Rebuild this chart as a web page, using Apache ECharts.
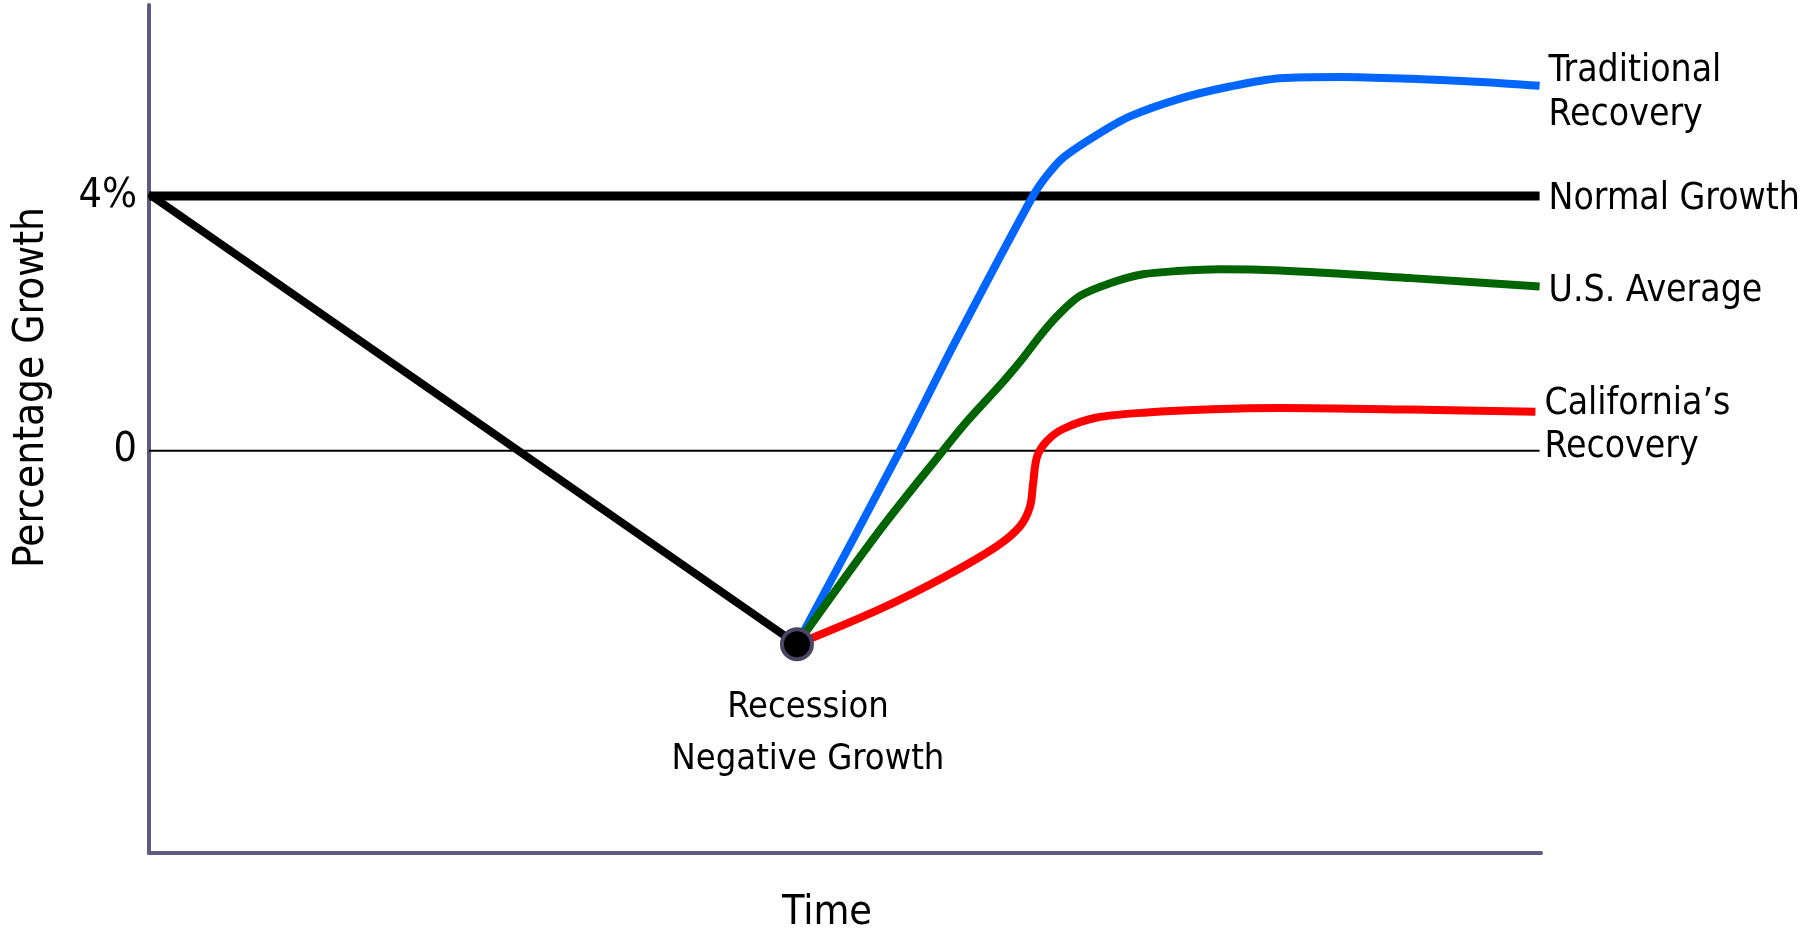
<!DOCTYPE html>
<html>
<head>
<meta charset="utf-8">
<script src="https://cdn.jsdelivr.net/npm/echarts@6/dist/echarts.min.js"></script>
<style>
html,body{margin:0;padding:0;background:#fff;}
#chart{width:1820px;height:939px;}
</style>
</head>
<body>
<div id="chart"></div>
<script>
// ---- data (time units 0..100, growth in %) ----
const yTickValues = [0, 4];
const yTickLabels = ['0', '4%'];
const yAxisTitle = 'Percentage Growth';
const xAxisTitle = 'Time';

const normalX = [0, 99.9];
const normalY = [4, 4];

const zeroX = [0, 99.9];
const zeroY = [0, 0];

const declineX = [0.2, 46.55];
const declineY = [4, -3.04];

const recessionPoint = [46.55, -3.04];
const recessionLabel = 'Recession\nNegative Growth';

const traditionalX = [46.55, 53.95, 57.9, 63.5, 64.5, 65.66, 68.1, 70.47, 74.07, 77.66, 81.25, 85.6, 90.66, 95.7, 99.9];
const traditionalY = [-3.04, 0, 1.70, 4.0, 4.32, 4.60, 4.96, 5.25, 5.53, 5.72, 5.85, 5.87, 5.84, 5.79, 5.73];

const usX = [46.55, 52.5, 57.04, 58.76, 61.35, 62.79, 64.22, 65.45, 66.88, 69.04, 71.41, 73.85, 76.94, 81.25, 90.66, 99.9];
const usY = [-3.04, -1.25, 0, 0.46, 1.08, 1.455, 1.86, 2.16, 2.43, 2.63, 2.77, 2.82, 2.85, 2.83, 2.71, 2.58];

const caX = [46.55, 52.5, 57.33, 60.92, 62.57, 63.29, 63.51, 63.79, 64.5, 65.66, 68.1, 71.7, 76.4, 81.25, 90.66, 99.6];
const caY = [-3.04, -2.49, -1.96, -1.50, -1.19, -0.88, -0.52, -0.10, 0.15, 0.34, 0.52, 0.60, 0.65, 0.67, 0.645, 0.61];

const seriesLabels = {
  traditional: 'Traditional\nRecovery',
  normal: 'Normal Growth',
  us: 'U.S. Average',
  ca: 'California\u2019s\nRecovery'
};

// ---- helpers ----
const zip = (xs, ys) => xs.map((x, i) => [x, ys[i]]);
const FONT = "'Liberation Sans Narrow','Arial Narrow','DejaVu Sans Condensed','Liberation Sans',sans-serif";
const AXIS_COLOR = '#5f5a80';

const chart = echarts.init(document.getElementById('chart'), null, {renderer: 'canvas'});

function endLabel(text, offset, lh) {
  return {
    show: true,
    formatter: text,
    color: '#000',
    fontFamily: FONT,
    fontSize: 37,
    lineHeight: lh || 44,
    distance: 9,
    offset: offset,
    align: 'left',
    verticalAlign: 'middle'
  };
}

const option = {
  animation: false,
  backgroundColor: '#fff',
  grid: {left: 149, right: 279, top: 5, bottom: 75},
  xAxis: {
    type: 'value',
    min: 0,
    max: 100,
    name: xAxisTitle,
    nameLocation: 'middle',
    nameGap: 40,
    nameTextStyle: {fontFamily: FONT, fontSize: 41, color: '#000', padding: [0, 36, 0, 0], verticalAlign: 'top'},
    axisLine: {show: true, onZero: false, lineStyle: {color: AXIS_COLOR, width: 4}},
    axisTick: {show: false},
    axisLabel: {show: false},
    splitLine: {show: false}
  },
  yAxis: {
    type: 'value',
    min: -6.32,
    max: 7,
    name: yAxisTitle,
    nameLocation: 'middle',
    nameRotate: 90,
    nameGap: 96,
    nameTextStyle: {fontFamily: FONT, fontSize: 42, color: '#000', padding: [0, 0, 0, 83]},
    axisLine: {show: true, onZero: false, lineStyle: {color: AXIS_COLOR, width: 4}},
    axisTick: {show: false},
    splitLine: {show: false},
    axisLabel: {
      show: true,
      customValues: yTickValues,
      formatter: (v) => {
        const i = yTickValues.indexOf(v);
        return i >= 0 ? yTickLabels[i] : '';
      },
      margin: 12,
      fontFamily: FONT,
      fontSize: 41,
      color: '#000'
    }
  },
  series: [
    {
      name: 'Zero',
      type: 'line',
      data: zip(zeroX, zeroY),
      symbol: 'none',
      lineStyle: {color: '#000', width: 2},
      silent: true,
      z: 1
    },
    {
      name: 'Normal Growth',
      type: 'line',
      data: zip(normalX, normalY),
      symbol: 'none',
      lineStyle: {color: '#000', width: 9, cap: 'butt'},
      endLabel: endLabel(seriesLabels.normal, [0, 3]),
      z: 2
    },
    {
      name: 'Decline',
      type: 'line',
      data: zip(declineX, declineY),
      symbol: 'none',
      lineStyle: {color: '#000', width: 8, cap: 'round'},
      z: 2
    },
    {
      name: 'Traditional Recovery',
      type: 'line',
      data: zip(traditionalX, traditionalY),
      symbol: 'none',
      smooth: 0.3,
      lineStyle: {color: '#0066ff', width: 8, cap: 'butt'},
      endLabel: endLabel(seriesLabels.traditional, [0, 8]),
      z: 3
    },
    {
      name: 'U.S. Average',
      type: 'line',
      data: zip(usX, usY),
      symbol: 'none',
      smooth: 0.3,
      lineStyle: {color: '#006400', width: 8, cap: 'butt'},
      endLabel: endLabel(seriesLabels.us, [0, 5]),
      z: 3
    },
    {
      name: 'California\u2019s Recovery',
      type: 'line',
      data: zip(caX, caY),
      symbol: 'none',
      smooth: 0.3,
      lineStyle: {color: '#ff0000', width: 8, cap: 'butt'},
      endLabel: endLabel(seriesLabels.ca, [0, 14], 43),
      z: 3
    },
    {
      name: 'Recession',
      type: 'scatter',
      data: [recessionPoint],
      symbol: 'circle',
      symbolSize: 30,
      itemStyle: {color: '#000', borderColor: '#4a4565', borderWidth: 4, opacity: 1},
      label: {
        show: true,
        formatter: recessionLabel,
        position: 'bottom',
        distance: 20,
        offset: [11, 0],
        color: '#000',
        fontFamily: FONT,
        fontSize: 36,
        lineHeight: 52,
        align: 'center'
      },
      z: 5
    }
  ]
};

chart.setOption(option);
</script>
</body>
</html>
